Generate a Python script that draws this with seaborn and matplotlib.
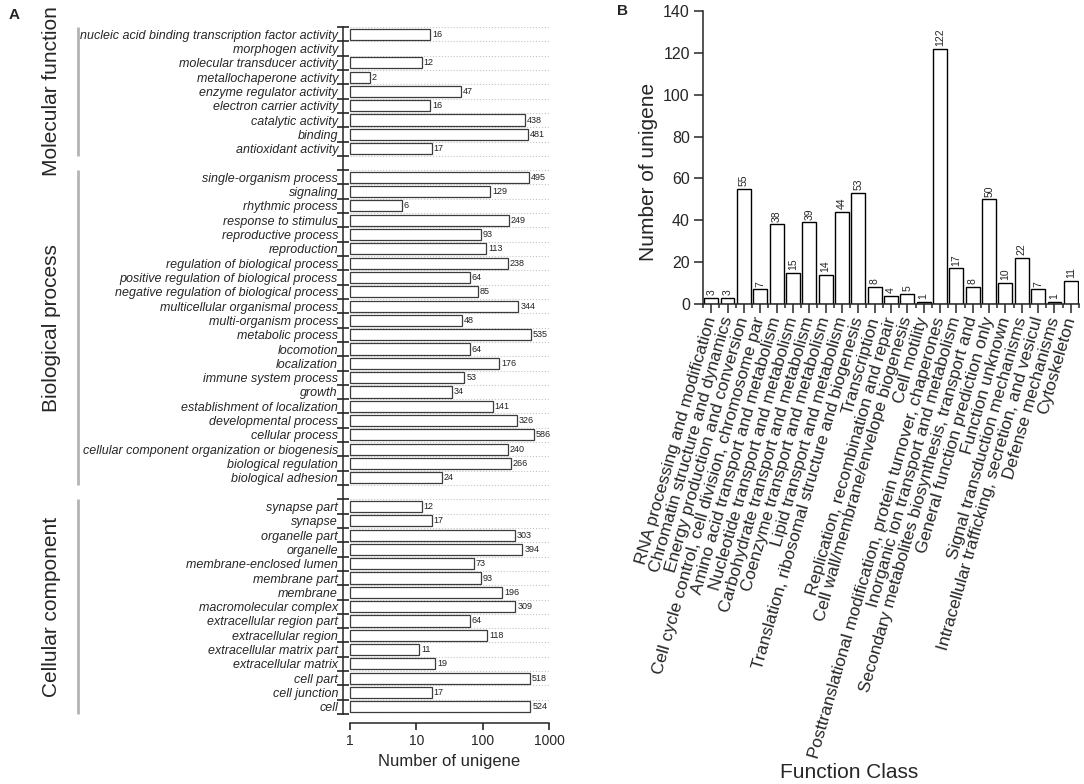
import numpy as np
import pandas as pd
import matplotlib
matplotlib.use('Agg')
import matplotlib.pyplot as plt
import matplotlib.transforms as mtransforms
from matplotlib.ticker import NullLocator
import seaborn as sns

# ---- Panel A: GO terms (number of unigene, log axis) ----
mf_terms = ['nucleic acid binding transcription factor activity', 'morphogen activity',
            'molecular transducer activity', 'metallochaperone activity',
            'enzyme regulator activity', 'electron carrier activity',
            'catalytic activity', 'binding', 'antioxidant activity']
mf_counts = [16, 0, 12, 2, 47, 16, 438, 481, 17]

bp_terms = ['single-organism process', 'signaling', 'rhythmic process', 'response to stimulus',
            'reproductive process', 'reproduction', 'regulation of biological process',
            'positive regulation of biological process', 'negative regulation of biological process',
            'multicellular organismal process', 'multi-organism process', 'metabolic process',
            'locomotion', 'localization', 'immune system process', 'growth',
            'establishment of localization', 'developmental process', 'cellular process',
            'cellular component organization or biogenesis', 'biological regulation',
            'biological adhesion']
bp_counts = [495, 129, 6, 249, 93, 113, 238, 64, 85, 344, 48, 535, 64, 176, 53, 34,
             141, 326, 586, 240, 266, 24]

cc_terms = ['synapse part', 'synapse', 'organelle part', 'organelle', 'membrane-enclosed lumen',
            'membrane part', 'membrane', 'macromolecular complex', 'extracellular region part',
            'extracellular region', 'extracellular matrix part', 'extracellular matrix',
            'cell part', 'cell junction', 'cell']
cc_counts = [12, 17, 303, 394, 73, 93, 196, 309, 64, 118, 11, 19, 518, 17, 524]

group_names = ['Molecular function', 'Biological process', 'Cellular component']
a_xticks = [1, 10, 100, 1000]
a_xtick_labels = ['1', '10', '100', '1000']

# ---- Panel B: COG function classes ----
cog_classes = ['RNA processing and modification', 'Chromatin structure and dynamics',
               'Energy production and conversion',
               'Cell cycle control, cell division, chromosome par',
               'Amino acid transport and metabolism', 'Nucleotide transport and metabolism',
               'Carbohydrate transport and metabolism', 'Coenzyme transport and metabolism',
               'Lipid transport and metabolism',
               'Translation, ribosomal structure and biogenesis', 'Transcription',
               'Replication, recombination and repair',
               'Cell wall/membrane/envelope biogenesis', 'Cell motility',
               'Posttranslational modification, protein turnover, chaperones',
               'Inorganic ion transport and metabolism',
               'Secondary metabolites biosynthesis, transport and',
               'General function prediction only', 'Function unknown',
               'Signal transduction mechanisms',
               'Intracellular trafficking, secretion, and vesicul',
               'Defense mechanisms', 'Cytoskeleton']
cog_counts = [3, 3, 55, 7, 38, 15, 39, 14, 44, 53, 8, 4, 5, 1, 122, 17, 8, 50, 10, 22, 7, 1, 11]
b_yticks = [0, 20, 40, 60, 80, 100, 120, 140]

sns.set_style('ticks')
plt.rcParams['font.family'] = ['Liberation Sans', 'DejaVu Sans']
plt.rcParams['axes.linewidth'] = 1.1

W, H = 1084, 784
fig = plt.figure(figsize=(W / 100, H / 100), dpi=100)
axA = fig.add_axes([350 / W, 1 - 714 / H, (549 - 350) / W, (714 - 27) / H])
axB = fig.add_axes([703 / W, 1 - 304 / H, (1079 - 703) / W, (304 - 11) / H])

# ---------------- Panel A ----------------
groups = [(mf_terms, mf_counts), (bp_terms, bp_counts), (cc_terms, cc_counts)]
order, go_terms, go_counts = [], [], []
for i, (terms, counts) in enumerate(groups):
    if i > 0:
        order.append(' ' * i)  # empty slot between groups
    order += terms
    go_terms += terms
    go_counts += counts

df_go = pd.DataFrame({'term': go_terms, 'count': go_counts})
df_go = df_go[df_go['count'] > 0]

axA.set_xscale('log')
sns.barplot(data=df_go, y='term', x='count', order=order, orient='h', color='white',
            saturation=1, edgecolor='#3c3c3c', linewidth=0.9, width=0.78,
            errorbar=None, ax=axA)
# start bars at 1 so their left edge shows on the log axis
for p in axA.patches:
    w = p.get_width()
    if w > 1:
        p.set_x(1)
        p.set_width(w - 1)
        p.set_clip_on(False)
for cont in axA.containers:
    axA.bar_label(cont, fmt='%g', padding=1.5, fontsize=6.5, color='#222222')

axA.set_xlim(1, 1000)
axA.set_ylim(len(order) - 0.5, -0.5)
axA.set_yticks(np.arange(len(order) + 1) - 0.5)
axA.set_yticks([order.index(t) for t in go_terms], minor=True)
axA.tick_params(axis='y', which='major', direction='inout', length=8, width=1.2,
                labelleft=False)
axA.tick_params(axis='y', which='minor', length=0, pad=3.6, labelsize=9)
axA.set_xticks(a_xticks)
axA.set_xticklabels(a_xtick_labels)
axA.xaxis.set_minor_locator(NullLocator())
axA.tick_params(axis='x', which='major', direction='out', length=5, width=1.2,
                labelsize=10, pad=3)
axA.grid(axis='y', which='major', linestyle=':', color='#c4c4c4', linewidth=0.8)
axA.grid(axis='x', visible=False)
axA.set_axisbelow(True)
sns.despine(ax=axA)
axA.spines['left'].set_position(('outward', 5))
axA.spines['bottom'].set_position(('outward', 6.5))
axA.set_ylabel('')
axA.set_xlabel('Number of unigene', fontsize=12, labelpad=4)
axA.set_yticklabels(go_terms, minor=True, fontsize=9, fontstyle='italic')

# group brackets and names
trans = mtransforms.blended_transform_factory(fig.transFigure, axA.transData)
for name, (terms, _) in zip(group_names, groups):
    first = order.index(terms[0])
    last = order.index(terms[-1])
    axA.plot([78 / W, 78 / W], [first - 0.5, last + 0.5], transform=trans,
             color='#b4b4b4', lw=2, clip_on=False, solid_capstyle='butt')
    axA.text(52 / W, (first + last) / 2, name, transform=trans, rotation=90,
             ha='center', va='center', fontsize=15)

# ---------------- Panel B ----------------
sns.barplot(x=cog_classes, y=cog_counts, order=cog_classes, color='white', saturation=1,
            edgecolor='black', linewidth=1.0, width=0.85, errorbar=None, ax=axB)
axB.bar_label(axB.containers[0], fmt='%g', rotation=90, padding=2, fontsize=7.5)
axB.set_ylim(b_yticks[0], b_yticks[-1])
axB.set_yticks(b_yticks)
axB.set_xlim(-0.5, len(cog_classes) - 0.5)
axB.set_xticks(range(len(cog_classes)))
axB.set_xticklabels(cog_classes, rotation=74, ha='right', va='center',
                    rotation_mode='anchor', fontsize=12.5)
axB.set_xticks(np.arange(len(cog_classes) + 1) - 0.5, minor=True)
axB.tick_params(axis='x', which='major', length=6.5, width=1.1, pad=3)
axB.tick_params(axis='x', which='minor', length=3, width=1.1)
axB.tick_params(axis='y', length=6.5, width=1.1, labelsize=11.5, pad=3)
sns.despine(ax=axB)
axB.set_ylabel('Number of unigene', fontsize=15)
axB.yaxis.set_label_coords(-0.12, 0.45)
axB.set_xlabel('Function Class', fontsize=15)
axB.xaxis.set_label_coords(0.388, -1.567)

fig.text(14 / W, 1 - 15 / H, 'A', fontweight='bold', fontsize=11, ha='center', va='center')
fig.text(622 / W, 1 - 11 / H, 'B', fontweight='bold', fontsize=11, ha='center', va='center')

# italic GO term labels (applied last so nothing resets them)
for lbl in axA.yaxis.get_ticklabels(minor=True):
    lbl.set_fontstyle('italic')

fig.savefig('out.png', dpi=100)
